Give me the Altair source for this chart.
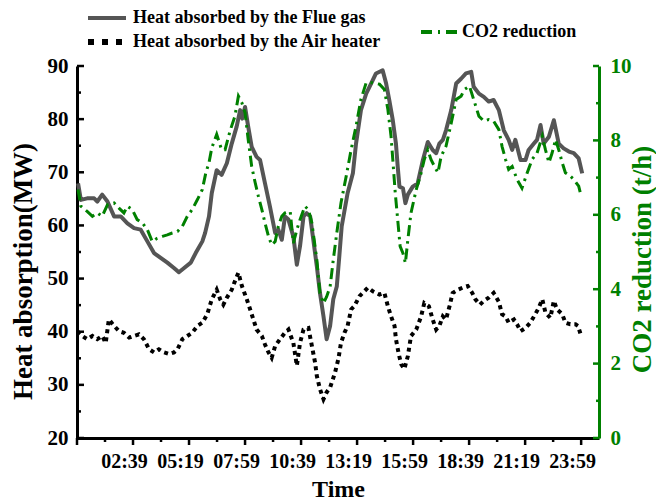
import altair as alt
import pandas as pd

# Minutes since the start of the record (tick 160 -> 02:39) and measured values
flue_t = [3, 11, 29, 49, 58, 72, 87, 106, 125, 144, 163, 182, 201, 220, 239, 258, 277, 291, 306, 325,
          339, 358, 366, 377, 385, 399, 413, 428, 442, 456, 466, 472, 480, 489, 499, 513, 523, 537, 551, 566,
          575, 585, 594, 604, 618, 628, 637, 647, 656, 666, 675, 685, 694, 704, 713, 723, 732, 742, 749, 756,
          773, 788, 797, 811, 826, 840, 854, 873, 883, 892, 902, 911, 916, 921, 931, 938, 945, 959, 973, 988,
          1002, 1016, 1026, 1035, 1045, 1054, 1069, 1083, 1097, 1111, 1126, 1133, 1148, 1162, 1176, 1190, 1205,
          1219, 1233, 1243, 1252, 1267, 1281, 1290, 1305, 1314, 1324, 1333, 1348, 1362, 1376, 1390, 1405, 1419,
          1433, 1443]
flue_v = [67.9, 64.8, 65.1, 65.1, 64.5, 65.8, 64.5, 61.7, 61.7, 60.4, 59.5, 59.2, 57.0, 54.8, 53.9, 53.0, 52.0,
          51.2, 52.0, 53.0, 54.8, 57.0, 58.6, 61.7, 66.1, 70.4, 69.5, 71.7, 75.4, 78.6, 81.7, 80.1, 82.3, 78.6,
          74.8, 72.9, 72.3, 67.9, 63.6, 58.6, 59.2, 57.3, 61.7, 61.1, 57.9, 52.6, 56.1, 61.7, 62.3, 61.7, 57.3,
          52.3, 47.3, 42.9, 38.6, 41.1, 46.1, 48.5, 54.0, 59.8, 66.1, 69.8, 75.4, 81.7, 84.8, 86.7, 88.6, 89.2,
          86.7, 83.6, 79.8, 75.4, 71.1, 67.3, 67.0, 64.2, 65.8, 67.3, 67.9, 72.3, 75.7, 74.2, 73.6, 75.4, 76.1,
          77.9, 81.7, 86.7, 87.6, 88.6, 88.9, 86.1, 84.8, 84.2, 83.3, 83.6, 81.7, 77.9, 76.1, 74.2, 76.1, 72.3,
          72.3, 74.2, 75.4, 76.1, 78.9, 75.4, 76.7, 79.8, 75.4, 74.5, 73.9, 73.6, 72.6, 69.8]

air_t = [1, 15, 29, 44, 58, 72, 82, 91, 106, 120, 134, 149, 163, 177, 191, 206, 220, 234, 249, 263,
         277, 287, 301, 315, 329, 344, 358, 372, 385, 399, 409, 418, 428, 442, 451, 461, 471, 485, 499, 513,
         528, 537, 547, 556, 566, 580, 594, 604, 618, 628, 637, 647, 661, 671, 680, 685, 694, 704, 713, 723,
         737, 747, 754, 764, 773, 783, 792, 807, 816, 831, 845, 864, 878, 888, 897, 907, 911, 919, 926, 935,
         945, 954, 969, 983, 992, 1005, 1016, 1026, 1035, 1045, 1054, 1064, 1073, 1088, 1102, 1116, 1129, 1138,
         1151, 1162, 1176, 1190, 1205, 1214, 1224, 1233, 1248, 1257, 1267, 1281, 1295, 1309, 1319, 1329, 1338,
         1352, 1362, 1371, 1386, 1395, 1409, 1424, 1431, 1440]
air_v = [40.1, 39.2, 38.6, 39.2, 38.6, 39.2, 37.9, 42.3, 41.1, 40.1, 39.8, 38.9, 39.2, 39.5, 38.6, 36.7, 36.1,
         36.7, 36.1, 35.8, 36.1, 36.7, 38.6, 39.2, 39.8, 41.1, 41.7, 43.3, 46.1, 47.9, 46.1, 45.1, 46.4, 47.9,
         49.5, 51.1, 48.6, 46.1, 43.3, 40.4, 39.2, 37.6, 36.1, 35.1, 37.3, 38.6, 39.8, 40.4, 37.9, 33.6, 37.9,
         40.4, 40.7, 37.3, 34.2, 31.7, 29.2, 27.3, 28.6, 29.5, 32.3, 35.0, 37.9, 39.8, 41.1, 44.2, 44.8, 46.7,
         47.3, 48.3, 47.6, 47.0, 47.3, 44.8, 42.9, 41.1, 38.6, 35.8, 33.9, 33.0, 35.4, 39.2, 40.4, 42.9, 45.4,
         44.8, 42.3, 40.4, 41.1, 42.9, 42.3, 44.8, 47.3, 47.9, 48.3, 48.6, 47.3, 46.1, 45.1, 45.8, 46.4, 47.3,
         45.6, 43.3, 42.9, 41.7, 42.3, 41.4, 40.1, 40.7, 41.7, 43.3, 44.5, 46.1, 43.6, 42.6, 45.8, 44.2, 43.3,
         41.7, 41.4, 41.4, 41.1, 39.2]

co2_t = [3, 11, 29, 44, 58, 72, 87, 106, 120, 134, 144, 158, 172, 187, 201, 215, 229, 244, 258, 272,
         287, 301, 315, 329, 344, 358, 368, 377, 385, 399, 413, 423, 437, 451, 461, 471, 480, 489, 499, 509,
         518, 528, 537, 547, 556, 566, 575, 585, 594, 609, 618, 628, 637, 651, 661, 671, 685, 694, 704, 713,
         723, 732, 742, 754, 769, 783, 797, 811, 826, 845, 864, 878, 888, 897, 902, 909, 916, 923, 931, 938,
         945, 954, 969, 983, 992, 1002, 1011, 1021, 1031, 1040, 1054, 1069, 1083, 1097, 1107, 1121, 1133, 1148,
         1162, 1176, 1190, 1205, 1214, 1224, 1233, 1243, 1257, 1271, 1286, 1300, 1314, 1329, 1338, 1348, 1357,
         1367, 1376, 1386, 1395, 1409, 1419, 1433, 1440]
co2_v = [6.68, 6.23, 6.09, 5.96, 6.05, 5.96, 6.27, 6.32, 6.18, 6.05, 6.23, 6.14, 5.87, 5.78, 5.60, 5.28, 5.37,
         5.42, 5.46, 5.51, 5.55, 5.69, 5.96, 6.14, 6.41, 6.68, 7.13, 7.40, 7.80, 8.16, 7.75, 7.75, 8.25, 8.65,
         9.19, 9.01, 8.74, 8.02, 7.30, 6.86, 6.50, 6.14, 5.78, 5.42, 5.19, 5.28, 5.69, 5.96, 6.05, 6.09, 5.24,
         5.60, 5.87, 6.23, 6.14, 5.78, 4.79, 3.89, 3.62, 3.80, 4.07, 4.79, 5.51, 6.32, 7.04, 7.75, 8.38, 9.10,
         9.55, 9.55, 9.51, 9.37, 8.83, 8.11, 7.49, 6.59, 5.87, 5.15, 4.97, 4.70, 5.33, 6.05, 6.68, 7.13, 7.49,
         7.75, 7.49, 7.30, 7.13, 7.57, 7.84, 8.47, 9.10, 9.19, 9.37, 9.46, 9.10, 8.65, 8.52, 8.56, 8.52, 8.29,
         7.84, 7.49, 7.22, 7.30, 6.95, 6.72, 7.13, 7.49, 7.66, 8.11, 7.75, 7.40, 7.66, 8.02, 7.75, 7.40, 7.13,
         7.04, 6.95, 6.77, 6.50]

# Tick positions
x_labelled = [160, 320, 480, 640, 800, 960, 1120, 1280, 1440]
x_major = [0] + x_labelled
x_minor = [80, 240, 400, 560, 720, 880, 1040, 1200, 1360]
left_major = [20, 30, 40, 50, 60, 70, 80, 90]
left_minor = [25, 35, 45, 55, 65, 75, 85]
right_major = [0, 2, 4, 6, 8, 10]
right_minor = [1, 3, 5, 7, 9]

legend_labels = ["Heat absorbed by the Flue gas", "Heat absorbed by the Air heater", "CO2 reduction"]

W, H = 522, 372
FONT = "Liberation Serif"
GREEN = "#008000"
GRAY = "#555555"

flue_df = pd.DataFrame({"t": flue_t, "v": flue_v})
air_df = pd.DataFrame({"t": air_t, "v": air_v})
co2_df = pd.DataFrame({"t": co2_t, "v": co2_v})

x_scale = alt.Scale(domain=[0, 1491], nice=False, zero=False)
left_scale = alt.Scale(domain=[20, 90], nice=False, zero=False)
right_scale = alt.Scale(domain=[0, 10], nice=False, zero=False)

# One axis definition per scale, repeated in every layer that shares the scale
x_axis = alt.Axis(
    values=x_labelled,
    labelExpr="timeFormat(datetime(2000, 0, 1, 0, datum.value - 1), '%H:%M')",
    ticks=False, grid=False, domainColor="black", domainWidth=3,
    labelFont=FONT, labelFontWeight="bold", labelFontSize=20, labelColor="black",
    labelPadding=13, labelOffset=-9, labelFlush=False, labelOverlap=False,
    title="Time", titleFont=FONT, titleFontWeight="bold", titleFontSize=24, titleColor="black",
    titleY=51, titleBaseline="middle",
)
left_axis = alt.Axis(
    orient="left", values=left_major, ticks=False, grid=False, domainColor="black", domainWidth=3,
    labelFont=FONT, labelFontWeight="bold", labelFontSize=21, labelColor="black", labelPadding=9,
    labelFlush=False,
    title="Heat absorption(MW)", titleFont=FONT, titleFontWeight="bold", titleFontSize=27,
    titleColor="black", titleX=-54, titleY=205, titleAngle=270, titleBaseline="middle",
    titleAlign="center",
)
right_axis = alt.Axis(
    orient="right", values=right_major, ticks=False, grid=False, domainColor=GREEN, domainWidth=3,
    labelFont=FONT, labelFontWeight="bold", labelFontSize=21, labelColor=GREEN, labelPadding=11,
    labelFlush=False,
    title="CO2 reduction (t/h)", titleFont=FONT, titleFontWeight="bold", titleFontSize=27,
    titleColor=GREEN, titleX=43, titleY=193, titleAngle=270, titleBaseline="middle",
    titleAlign="center",
)

X = alt.X("t:Q", scale=x_scale, axis=x_axis)
Y_LEFT = alt.Y("v:Q", scale=left_scale, axis=left_axis)
Y_RIGHT = alt.Y("v:Q", scale=right_scale, axis=right_axis)

# Series on the left axis
flue_line = alt.Chart(flue_df).mark_line(
    color=GRAY, strokeWidth=4, strokeJoin="round"
).encode(x=X, y=Y_LEFT)
air_line = alt.Chart(air_df).mark_line(
    color="black", strokeWidth=4, strokeDash=[4, 4]
).encode(x=X, y=Y_LEFT)

# Inward ticks on the left axis, outward ticks on the bottom axis
left_major_ticks = alt.Chart(pd.DataFrame({"v": left_major})).mark_rule(
    color="black", strokeWidth=2.5
).encode(y=Y_LEFT, x=alt.value(0), x2=alt.value(7))
left_minor_ticks = alt.Chart(pd.DataFrame({"v": left_minor})).mark_rule(
    color="black", strokeWidth=2.5
).encode(y=Y_LEFT, x=alt.value(0), x2=alt.value(4))
x_major_ticks = alt.Chart(pd.DataFrame({"t": x_major})).mark_rule(
    color="black", strokeWidth=2.5
).encode(x=X, y=alt.value(H), y2=alt.value(H + 7))
x_minor_ticks = alt.Chart(pd.DataFrame({"t": x_minor})).mark_rule(
    color="black", strokeWidth=2.5
).encode(x=X, y=alt.value(H), y2=alt.value(H + 4))

# Legend above the plot
def legend_text(label, x, y):
    return alt.Chart(pd.DataFrame({"label": [label]})).mark_text(
        align="left", baseline="middle", font=FONT, fontWeight="bold", fontSize=18, color="black"
    ).encode(text="label:N", x=alt.value(x), y=alt.value(y))

def legend_sample(x0, x1, y, **style):
    return alt.Chart(pd.DataFrame({"label": [""]})).mark_rule(**style).encode(
        x=alt.value(x0), x2=alt.value(x1), y=alt.value(y)
    )

legend = [
    legend_sample(11, 49, -48, color=GRAY, strokeWidth=4),
    legend_text(legend_labels[0], 56, -48),
    legend_sample(11, 49, -24, color="black", strokeWidth=6, strokeDash=[6, 8]),
    legend_text(legend_labels[1], 56, -24),
    legend_sample(344, 382, -34, color=GREEN, strokeWidth=4, strokeDash=[11, 6, 2, 6]),
    legend_text(legend_labels[2], 385, -34),
]

left_group = alt.layer(
    flue_line, air_line, left_major_ticks, left_minor_ticks, x_major_ticks, x_minor_ticks, *legend
)

# Series on the right axis
co2_line = alt.Chart(co2_df).mark_line(
    color=GREEN, strokeWidth=3, strokeDash=[11, 5, 2.5, 5]
).encode(x=X, y=Y_RIGHT)
right_major_ticks = alt.Chart(pd.DataFrame({"v": right_major})).mark_rule(
    color=GREEN, strokeWidth=2.5
).encode(y=Y_RIGHT, x=alt.value(W - 6), x2=alt.value(W))
right_minor_ticks = alt.Chart(pd.DataFrame({"v": right_minor})).mark_rule(
    color=GREEN, strokeWidth=2.5
).encode(y=Y_RIGHT, x=alt.value(W - 3), x2=alt.value(W))

right_group = alt.layer(co2_line, right_major_ticks, right_minor_ticks)

chart = alt.layer(left_group, right_group).resolve_scale(y="independent").properties(
    width=W,
    height=H,
    autosize=alt.AutoSizeParams(type="none"),
    padding={"left": 77, "top": 66, "right": 57, "bottom": 64},
    background="white",
).configure_view(stroke=None)

chart.save("out.html", embed_options={"renderer": "svg", "actions": False})
